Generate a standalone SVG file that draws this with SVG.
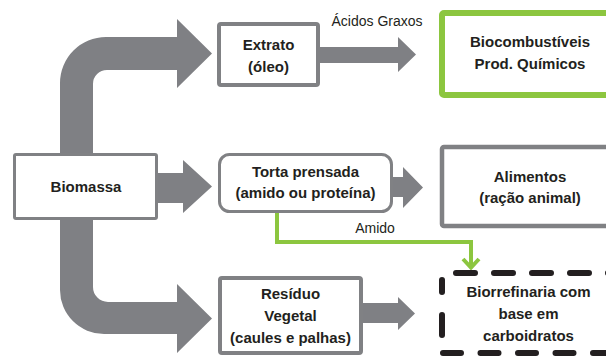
<svg xmlns="http://www.w3.org/2000/svg" width="606" height="357" viewBox="0 0 606 357">
<style>
  .arrow { fill: #7f8084; }
  .box { fill: #ffffff; stroke: #808184; }
  .t { font-family: "Liberation Sans", Arial, sans-serif; font-weight: bold; font-size: 15px; fill: #231f20; text-anchor: middle; }
  .lbl { font-family: "Liberation Sans", Arial, sans-serif; font-size: 14px; fill: #231f20; text-anchor: middle; }
  .green { fill: none; stroke: #8cc63f; stroke-width: 4; }
  .dash { fill: none; stroke: #231f20; stroke-width: 6; stroke-linecap: round; }
</style>
<rect width="606" height="357" fill="#ffffff"/>
<g id="connectors">
  <path class="arrow" d="M60,160 L60,83 A46,46 0 0 1 106,37 L177,37 L177,19 L212,53.5 L177,88 L177,70 L107,70 A14,14 0 0 0 93,84 L93,160 Z"/>
  <path class="arrow" d="M150,173 L183,173 L183,160 L212,186.5 L183,213 L183,203 L150,203 Z"/>
  <path class="arrow" d="M60,212 L60,290 A44,44 0 0 0 104,334 L177,334 L177,353 L212,318.5 L177,284 L177,302 L108,302 A15,15 0 0 1 93,287 L93,212 Z"/>
  <path class="arrow" d="M316,47 L398,47 L398,37 L416,54.5 L398,72 L398,63 L316,63 Z"/>
  <path class="arrow" d="M388,177 L403,177 L403,167 L423,187.5 L403,208 L403,197 L388,197 Z"/>
  <path class="arrow" d="M358,303 L398,303 L398,297 L415,313.5 L398,330 L398,323 L358,323 Z"/>
  <polyline class="green" points="277,212 277,242 471,242 471,267"/>
  <polyline class="green" points="463,259 471,267.5 479,259" stroke-linejoin="miter"/>
  <text class="lbl" x="377" y="26">Ácidos Graxos</text>
  <text class="lbl" x="375" y="233">Amido</text>
</g>
<g id="biomassa">
  <rect class="box" x="14.5" y="154.5" width="142" height="64" rx="1.5" stroke-width="3"/>
  <text class="t" x="86" y="192">Biomassa</text>
</g>
<g id="extrato">
  <rect class="box" x="219" y="24" width="99" height="61" rx="2" stroke-width="4"/>
  <text class="t" x="268.5" y="50">Extrato</text>
  <text class="t" x="268.5" y="72">(óleo)</text>
</g>
<g id="torta">
  <rect class="box" x="219.5" y="154.5" width="172" height="57" rx="10" stroke-width="3"/>
  <text class="t" x="305.5" y="177">Torta prensada</text>
  <text class="t" x="305.5" y="198">(amido ou proteína)</text>
</g>
<g id="residuo">
  <rect class="box" x="220" y="278" width="141" height="75" rx="2" stroke-width="4"/>
  <text class="t" x="290.5" y="299">Resíduo</text>
  <text class="t" x="290.5" y="321">Vegetal</text>
  <text class="t" x="290.5" y="343">(caules e palhas)</text>
</g>
<g id="biocombustiveis">
  <rect x="442" y="13" width="200" height="82" rx="2" fill="#ffffff" stroke="#8cc63f" stroke-width="6"/>
  <text class="t" x="530" y="47">Biocombustíveis</text>
  <text class="t" x="530" y="69">Prod. Químicos</text>
</g>
<g id="alimentos">
  <rect class="box" x="442" y="147" width="200" height="79" rx="2" stroke-width="4.5"/>
  <text class="t" x="530" y="182">Alimentos</text>
  <text class="t" x="530" y="203">(ração animal)</text>
</g>
<g id="biorrefinaria">
  <line class="dash" x1="456" y1="273" x2="620" y2="273" stroke-dasharray="19 19"/>
  <line class="dash" x1="443" y1="353" x2="620" y2="353" stroke-dasharray="18 19.5"/>
  <line class="dash" x1="442" y1="280" x2="442" y2="292"/>
  <line class="dash" x1="442" y1="315" x2="442" y2="335"/>
  <text class="t" x="528.5" y="297">Biorrefinaria com</text>
  <text class="t" x="528.5" y="319">base em</text>
  <text class="t" x="528.5" y="341">carboidratos</text>
</g>
</svg>
